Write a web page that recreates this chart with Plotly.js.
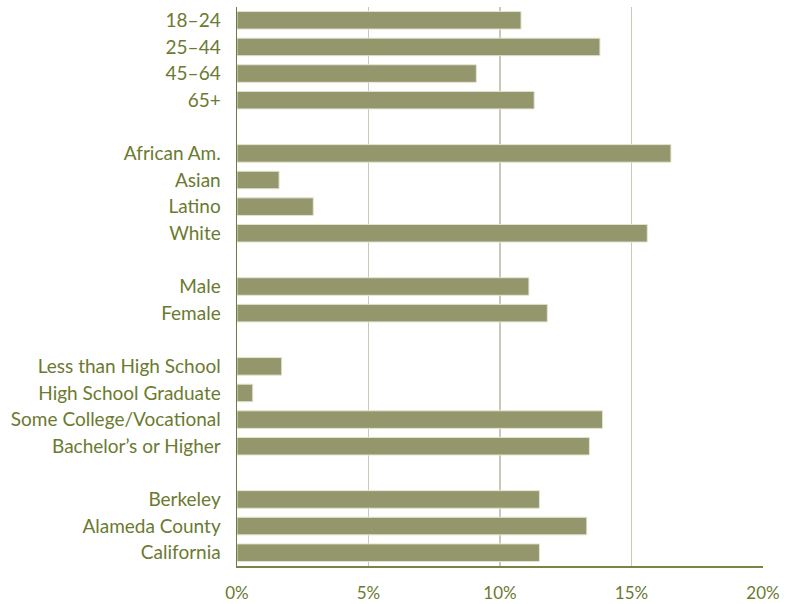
<!DOCTYPE html>
<html>
<head>
<meta charset="utf-8">
<script src="https://cdn.plot.ly/plotly-3.0.1.min.js"></script>
<style>html,body{margin:0;padding:0;background:#fff;}#chart{width:787px;height:604px;}</style>
</head>
<body>
<div id="chart"></div>
<script>
const ageLabels = ["18–24", "25–44", "45–64", "65+"];
const ageValues = [10.8, 13.8, 9.1, 11.3];
const raceLabels = ["African Am.", "Asian", "Latino", "White"];
const raceValues = [16.5, 1.6, 2.9, 15.6];
const sexLabels = ["Male", "Female"];
const sexValues = [11.1, 11.8];
const eduLabels = ["Less than High School", "High School Graduate", "Some College/Vocational", "Bachelor’s or Higher"];
const eduValues = [1.7, 0.6, 13.9, 13.4];
const geoLabels = ["Berkeley", "Alameda County", "California"];
const geoValues = [11.5, 13.3, 11.5];
const xTickVals = [0, 5, 10, 15, 20];
const xTickText = ["0%", "5%", "10%", "15%", "20%"];

const groups = [
  [ageLabels, ageValues],
  [raceLabels, raceValues],
  [sexLabels, sexValues],
  [eduLabels, eduValues],
  [geoLabels, geoValues]
];
const cats = [], vals = [];
groups.forEach((g, i) => {
  if (i > 0) { cats.push(" ".repeat(i)); vals.push(null); }
  g[0].forEach((c, j) => { cats.push(c); vals.push(g[1][j]); });
});

const olive = "#6b7a30";
const trace = {
  type: "bar",
  orientation: "h",
  y: cats,
  x: vals,
  marker: {color: "#94966b", line: {color: "#e4e4d6", width: 1}},
  width: 0.66,
  hoverinfo: "x+y"
};
const layout = {
  width: 787, height: 604,
  margin: {l: 237, r: 24, t: 7, b: 38},
  paper_bgcolor: "#fff", plot_bgcolor: "#fff",
  showlegend: false,
  font: {family: "Lato, 'Open Sans', sans-serif", color: olive, size: 19},
  xaxis: {
    range: [0, 20],
    tickvals: xTickVals, ticktext: xTickText,
    showgrid: true, gridcolor: "#c9cab5", gridwidth: 1.5,
    zeroline: false,
    showline: true, linecolor: "#7a8545", linewidth: 1.5,
    ticks: "", ticklabelstandoff: 11,
    tickfont: {size: 17, color: olive}
  },
  yaxis: {
    type: "category",
    categoryorder: "array", categoryarray: cats,
    autorange: false,
    range: [cats.length - 0.5, -0.5],
    showgrid: false, zeroline: false,
    showline: true, linecolor: "#6e7a3a", linewidth: 1.5,
    ticks: "", ticklabelstandoff: 11,
    tickfont: {size: 19, color: olive}
  }
};
Plotly.newPlot("chart", [trace], layout, {displayModeBar: false, staticPlot: true});
</script>
</body>
</html>
